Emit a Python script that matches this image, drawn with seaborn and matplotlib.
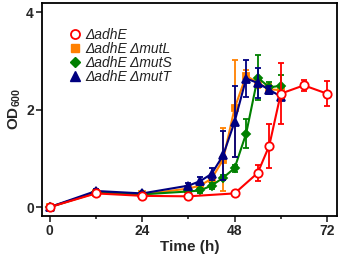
import matplotlib
matplotlib.use("Agg")
import matplotlib.pyplot as plt
import seaborn as sns
from matplotlib.lines import Line2D

sns.set_style("ticks")
plt.rcParams["font.family"] = ["Liberation Sans", "DejaVu Sans"]
plt.rcParams["mathtext.fontset"] = "custom"
plt.rcParams["mathtext.rm"] = "Liberation Sans"
plt.rcParams["mathtext.bf"] = "Liberation Sans:bold"
plt.rcParams["mathtext.default"] = "bf"

# time points (h)
t_adhE = [0, 12, 24, 36, 48, 54, 57, 60, 66, 72]
t_mut = [0, 12, 24, 36, 39, 42, 45, 48, 51, 54, 57, 60]

# OD600 means and error bars
od_adhE = [0.0, 0.28, 0.23, 0.22, 0.28, 0.70, 1.26, 2.33, 2.50, 2.33]
err_adhE = [0.03, 0.03, 0.03, 0.03, 0.04, 0.17, 0.45, 0.62, 0.12, 0.26]

od_mutL = [0.0, 0.29, 0.26, 0.38, 0.44, 0.58, 0.97, 2.03, 2.70, 2.55, 2.42, 2.40]
err_mutL = [0.02, 0.03, 0.03, 0.05, 0.06, 0.10, 0.65, 1.00, 0.12, 0.10, 0.10, 0.08]

od_mutS = [0.0, 0.30, 0.26, 0.32, 0.34, 0.44, 0.60, 0.80, 1.51, 2.66, 2.46, 2.49]
err_mutS = [0.02, 0.03, 0.03, 0.04, 0.05, 0.06, 0.05, 0.07, 0.30, 0.46, 0.10, 0.23]

od_mutT = [0.0, 0.33, 0.28, 0.44, 0.53, 0.68, 1.06, 1.75, 2.64, 2.55, 2.41, 2.27]
err_mutT = [0.02, 0.04, 0.03, 0.06, 0.08, 0.12, 0.50, 0.73, 0.38, 0.31, 0.08, 0.06]

labels = ["ΔadhE", "ΔadhE ΔmutL", "ΔadhE ΔmutS", "ΔadhE ΔmutT"]
colors = ["#FF0000", "#FF8000", "#008000", "#000080"]

fig, ax = plt.subplots(figsize=(3.4, 2.6), dpi=100)
fig.subplots_adjust(left=0.124, right=0.99, top=0.99, bottom=0.17)

series = [
    (t_mut, od_mutL, err_mutL, colors[1], "s", colors[1], 4.5),
    (t_mut, od_mutS, err_mutS, colors[2], "D", colors[2], 4.5),
    (t_mut, od_mutT, err_mutT, colors[3], "^", colors[3], 5.5),
    (t_adhE, od_adhE, err_adhE, colors[0], "o", "white", 6),
]
for i, (t, y, e, c, m, fc, ms) in enumerate(series):
    ax.errorbar(t, y, yerr=e, fmt="none", ecolor=c, elinewidth=1.3,
                capsize=2.5, capthick=1.3, zorder=2 + i)
    sns.lineplot(x=t, y=y, ax=ax, color=c, marker=m, markersize=ms,
                 markerfacecolor=fc, markeredgecolor=c, markeredgewidth=1.3,
                 linewidth=1.5, zorder=3 + i)

ax.set_xlim(-2, 74.5)
ax.set_ylim(-0.18, 4.2)
ax.set_xticks([0, 24, 48, 72])
ax.set_xticks([12, 36, 60], minor=True)
ax.set_yticks([0, 2, 4])
ax.tick_params(axis="both", which="major", direction="out", length=4,
               width=1.2, labelsize=10, pad=2)
ax.tick_params(axis="x", which="minor", direction="out", length=2.5, width=1.2)
for lab in ax.get_xticklabels() + ax.get_yticklabels():
    lab.set_fontweight("bold")
for s in ax.spines.values():
    s.set_linewidth(1.3)
    s.set_color("black")

ax.set_xlabel("Time (h)", fontsize=11, fontweight="bold", labelpad=1)
ax.set_ylabel("OD$_{600}$", fontsize=11, fontweight="bold", labelpad=2)

handles = [
    Line2D([], [], ls="none", marker="o", color=colors[0], markerfacecolor="white",
           markeredgewidth=1.3, markersize=6.5),
    Line2D([], [], ls="none", marker="s", color=colors[1], markersize=5.5),
    Line2D([], [], ls="none", marker="D", color=colors[2], markersize=5.5),
    Line2D([], [], ls="none", marker="^", color=colors[3], markersize=6.5),
]
leg = ax.legend(handles, labels, loc="upper left", bbox_to_anchor=(0.06, 0.925),
                frameon=False, handlelength=0.8, handletextpad=0.3,
                labelspacing=0.0, borderpad=0.2,
                prop={"style": "italic", "size": 10})
for txt in leg.get_texts():
    txt.set_color("#222222")

fig.savefig("out.png", dpi=100)
